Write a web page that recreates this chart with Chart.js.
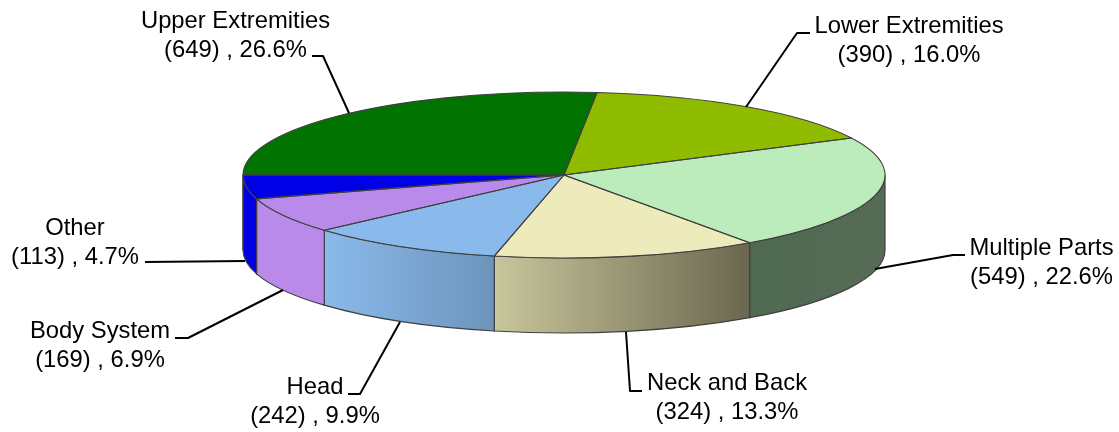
<!DOCTYPE html>
<html>
<head>
<meta charset="utf-8">
<style>html,body{margin:0;padding:0;background:#fff}canvas{display:block}</style>
<script src="https://cdn.jsdelivr.net/npm/chart.js@4"></script>
</head>
<body>
<canvas id="c" width="1119" height="432"></canvas>
<script>
const categories = ["Lower Extremities","Multiple Parts","Neck and Back","Head","Body System","Other","Upper Extremities"];
const counts = [390,549,324,242,169,113,649];
const percents = ["16.0%","22.6%","13.3%","9.9%","6.9%","4.7%","26.6%"];
const topColors = ["#90BC00","#BCEBBC","#EDEBBC","#8ABAEB","#BA8AEB","#0000E6","#007300"];
const sideLight = ["#6A8A00","#506A52","#C8C69C","#8ABAEB","#BA8AEB","#0000E0","#004F00"];
const sideDark  = ["#6A8A00","#566B56","#6A674F","#6D94BB","#BA8AEB","#0000E0","#004F00"];
const labelCenterX = [909,1041.5,727,315,100,75,235.5];
const labelBaseY = [33,255,390,394,338,235,28];
const leaders = [
  [[810,33],[797,33],[746,107]],
  [[965,255],[953,255],[875,269]],
  [[642,391],[630,391],[626,332]],
  [[348,394],[360,394],[400,322]],
  [[175,338],[188,338],[283,290]],
  [[145,262],[245,261]],
  [[312,56],[323,56],[349,113]]
];
const RADIUS = 321, TILT = 83/321, DEPTH = 75, EDGE = "#404040";

function ringPath(ctx, x, y, r, a0, a1, ccw){
  ctx.ellipse(x, y, r, r*TILT, 0, a0, a1, ccw);
}
const pie3d = {
  id:'pie3d',
  beforeDatasetsDraw(chart){
    const ctx = chart.ctx, arcs = chart.getDatasetMeta(0).data;
    const tp = 2*Math.PI;
    arcs.forEach((el,i)=>{
      for(let k=-1;k<=1;k++){
        const a0 = Math.max(el.startAngle, k*tp), a1 = Math.min(el.endAngle, k*tp+Math.PI);
        if(a1-a0 <= 1e-4) continue;
        const x0 = el.x+RADIUS*Math.cos(a0), x1 = el.x+RADIUS*Math.cos(a1);
        const g = ctx.createLinearGradient(Math.min(x0,x1),0,Math.max(x0,x1),0);
        g.addColorStop(0,sideLight[i]); g.addColorStop(1,sideDark[i]);
        ctx.beginPath();
        ringPath(ctx,el.x,el.y,RADIUS,a0,a1,false);
        ringPath(ctx,el.x,el.y+DEPTH,RADIUS,a1,a0,true);
        ctx.closePath();
        ctx.fillStyle=g; ctx.fill();
        ctx.strokeStyle=EDGE; ctx.lineWidth=1.2; ctx.stroke();
      }
    });
    const c = arcs[0];
    ctx.save();
    ctx.translate(c.x,c.y); ctx.scale(1,TILT); ctx.translate(-c.x,-c.y);
  },
  afterDatasetsDraw(chart){
    const ctx = chart.ctx, arcs = chart.getDatasetMeta(0).data;
    ctx.restore();
    arcs.forEach(el=>{
      ctx.beginPath();
      ctx.moveTo(el.x,el.y);
      ringPath(ctx,el.x,el.y,RADIUS,el.startAngle,el.endAngle,false);
      ctx.closePath();
      ctx.strokeStyle=EDGE; ctx.lineWidth=1.1; ctx.lineJoin='round'; ctx.stroke();
    });
    ctx.save();
    ctx.strokeStyle="#000"; ctx.lineWidth=2;
    leaders.forEach(p=>{
      ctx.beginPath();
      p.forEach((q,j)=> j? ctx.lineTo(q[0],q[1]) : ctx.moveTo(q[0],q[1]));
      ctx.stroke();
    });
    ctx.fillStyle="#000"; ctx.font='23.8px "Liberation Sans"'; ctx.textAlign='center'; ctx.textBaseline='alphabetic';
    categories.forEach((name,i)=>{
      ctx.fillText(name,labelCenterX[i],labelBaseY[i]);
      ctx.fillText("("+counts[i]+") , "+percents[i],labelCenterX[i],labelBaseY[i]+29);
    });
    ctx.restore();
  }
};
new Chart(document.getElementById('c'),{
  type:'pie',
  data:{labels:categories,datasets:[{data:counts,backgroundColor:topColors,borderWidth:0,clip:false}]},
  options:{
    responsive:false,animation:false,events:[],
    rotation:5.9,radius:RADIUS,
    layout:{padding:{left:9,right:0,top:0,bottom:82}},
    plugins:{legend:{display:false},title:{display:false},tooltip:{enabled:false}}
  },
  plugins:[pie3d]
});
</script>
</body>
</html>
